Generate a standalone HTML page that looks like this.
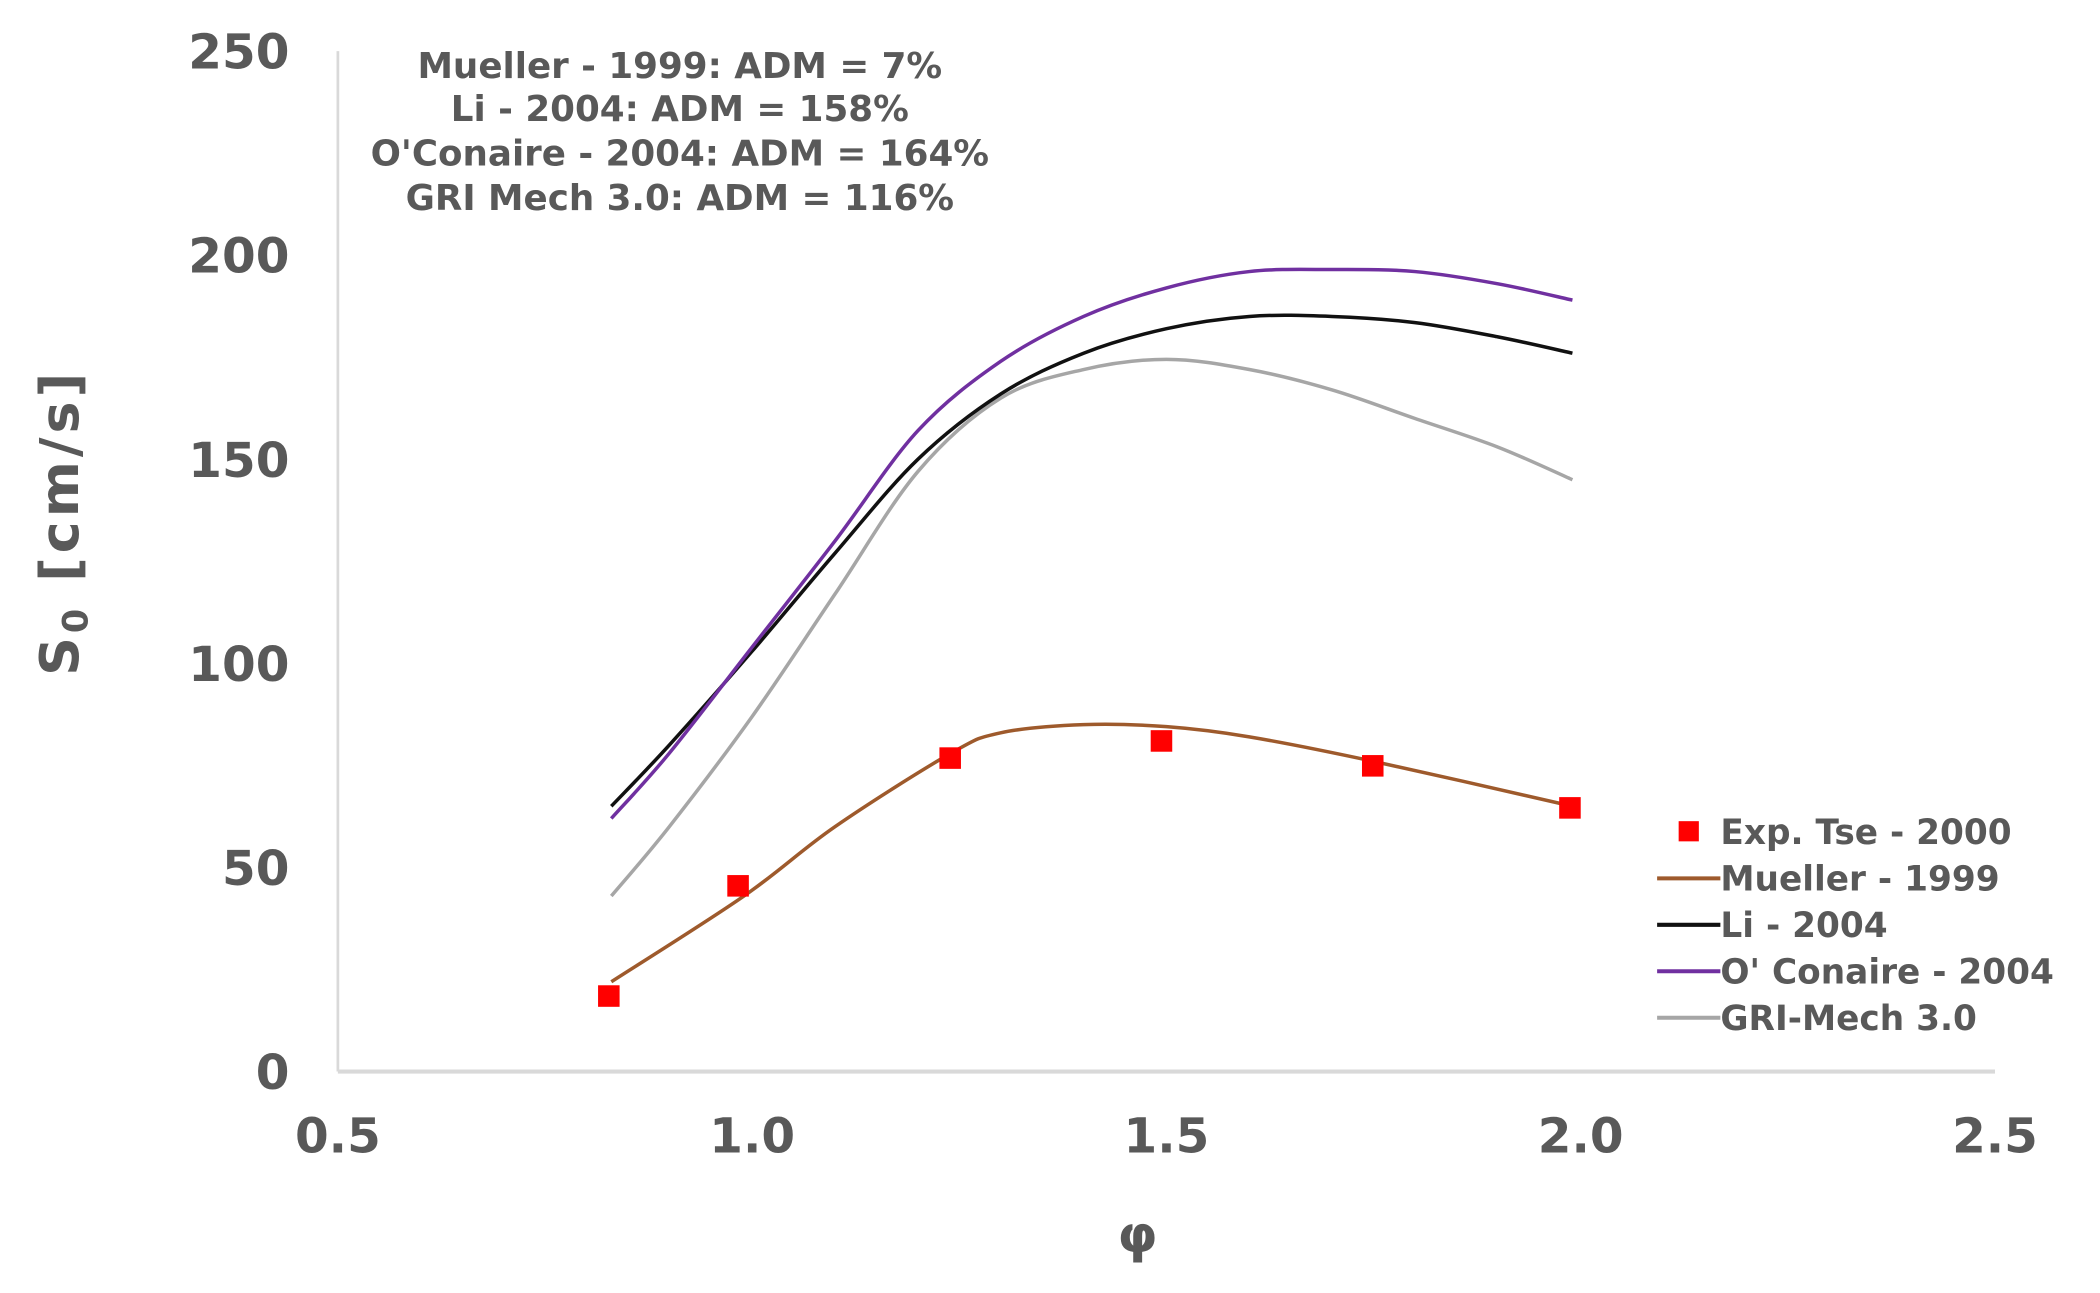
<!DOCTYPE html>
<html><head><meta charset="utf-8"><style>
html,body{margin:0;padding:0;background:#fff;}
svg{display:block;}
text{font-family:"DejaVu Sans","Liberation Sans",sans-serif;font-weight:bold;fill:#595959;}
</style></head><body>
<svg id="chart" width="2100" height="1293" viewBox="0 0 1560 960.5" preserveAspectRatio="none" xmlns="http://www.w3.org/2000/svg">
<g id="axes"></g>
<g id="series"></g>
<g font-size="26.5" text-anchor="middle">
<text x="505" y="58">Mueller - 1999: ADM = 7%</text>
<text x="505" y="90">Li - 2004: ADM = 158%</text>
<text x="505" y="123">O'Conaire - 2004: ADM = 164%</text>
<text x="505" y="156">GRI Mech 3.0: ADM = 116%</text>
</g>
<text font-size="40" letter-spacing="3" text-anchor="middle" transform="translate(58,388) rotate(-90)">S<tspan font-size="26" dy="7">0</tspan><tspan dy="-7"> [cm/s]</tspan></text>
<text font-size="38" text-anchor="middle" x="845" y="930">φ</text>
<g id="legend" font-size="25.5"></g>
</svg>
<script>
const xTicks=[0.5,1.0,1.5,2.0,2.5];
const xTickLabels=["0.5","1.0","1.5","2.0","2.5"];
const yTicks=[0,50,100,150,200,250];
const expX=[0.827,0.983,1.239,1.494,1.749,1.987];
const expY=[18.5,45.5,76.8,81,74.9,64.6];
const muellerX=[0.83,0.99,1.1,1.24,1.3,1.4,1.5,1.6,1.75,1.99];
const muellerY=[22,43,60,78,83,85,84.5,82,76,65];
const modelX=[0.83,0.9,1.0,1.1,1.2,1.3,1.4,1.5,1.6,1.7,1.8,1.9,1.99];
const liY=[65,80,103,127,150,166,176,182,185,185,183.5,180,176];
const oconaireY=[62,78,104,130,157,174,185,192,196,196.5,196,193,189];
const griY=[43,60,87,117,147,165,172,174.5,172,167,160,153,145];
const legendLabels=["Exp. Tse - 2000","Mueller - 1999","Li - 2004","O' Conaire - 2004","GRI-Mech 3.0"];
const NS="http://www.w3.org/2000/svg";
const X=v=>251+(v-0.5)*615.5;
const Y=v=>796-v*3.032;
function mk(tag,attrs,parent){const e=document.createElementNS(NS,tag);for(const k in attrs)e.setAttribute(k,attrs[k]);parent.appendChild(e);return e;}
const axes=document.getElementById('axes');
let l=mk('line',{x1:251,y1:38,x2:251,y2:796,stroke:'#d9d9d9','stroke-width':2},axes);


l=mk('line',{x1:251,y1:796,x2:1482,y2:796,stroke:'#d9d9d9','stroke-width':3},axes);


yTicks.forEach(v=>{const t=mk('text',{x:215,y:Y(v)+13,'text-anchor':'end','font-size':36},axes);t.textContent=String(v);

});
xTicks.forEach((v,i)=>{const t=mk('text',{x:X(v),y:856,'text-anchor':'middle','font-size':36},axes);t.textContent=xTickLabels[i];

});
function smooth(xs,ys){const p=xs.map((x,i)=>[X(x),Y(ys[i])]);let d=`M${p[0][0]},${p[0][1]}`;
for(let i=0;i<p.length-1;i++){const p0=p[i-1]||p[i],p1=p[i],p2=p[i+1],p3=p[i+2]||p2;
d+=` C${p1[0]+(p2[0]-p0[0])/6},${p1[1]+(p2[1]-p0[1])/6} ${p2[0]-(p3[0]-p1[0])/6},${p2[1]-(p3[1]-p1[1])/6} ${p2[0]},${p2[1]}`;}return d;}
const series=document.getElementById('series');
const lines=[[modelX,griY,'#a6a6a6','gri-mech-line'],[modelX,liY,'#111111','li-2004-line'],[modelX,oconaireY,'#7030a0','oconaire-2004-line'],[muellerX,muellerY,'#9e5a2c','mueller-1999-line']];
lines.forEach(s=>{const p=mk('path',{d:smooth(s[0],s[1]),fill:'none',stroke:s[2],'stroke-width':2.6},series);

});
expX.forEach((x,i)=>{const r=mk('rect',{x:X(x)-8,y:Y(expY[i])-8,width:16,height:16,fill:'#ff0000'},series);

});
const lg=document.getElementById('legend');
const lcol=[null,'#9e5a2c','#111111','#7030a0','#a6a6a6'];
legendLabels.forEach((s,i)=>{const y=618+i*34.5;
if(i===0){const r=mk('rect',{x:1247,y:y-8,width:15,height:15,fill:'#ff0000'},lg);}
else{const m=mk('line',{x1:1231,y1:y,x2:1278,y2:y,stroke:lcol[i],'stroke-width':3},lg);}
const t=mk('text',{x:1278,y:y+9},lg);t.textContent=s;

});
</script>
</body></html>
